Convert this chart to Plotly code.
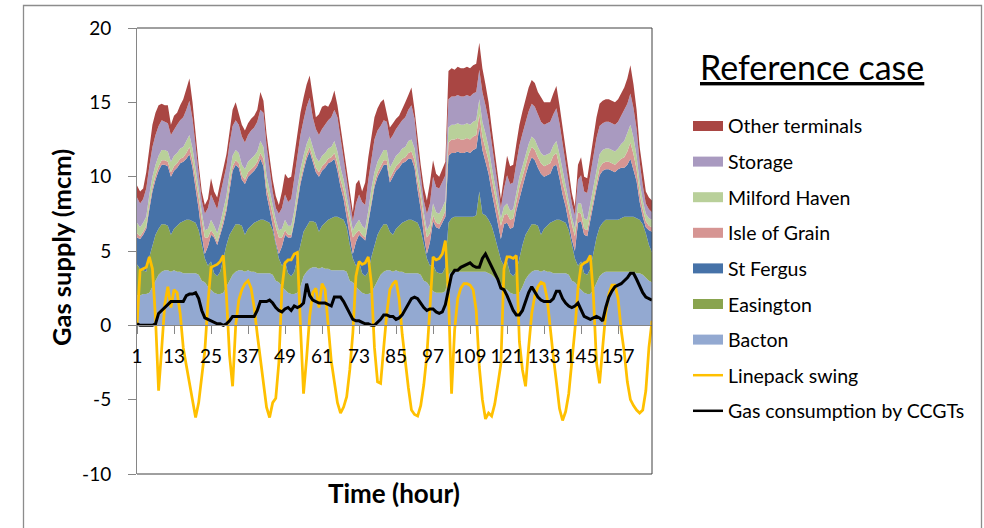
import plotly.graph_objects as go

# ---------------------------------------------------------------------------
# Hourly gas supply by terminal over one week (mcm), plus linepack swing and
# gas burnt by CCGTs.
# ---------------------------------------------------------------------------
hours = list(range(1, 169))
tick_hours = list(range(1, 158, 12))
tick_labels = [str(h) for h in tick_hours]
y_ticks = [-10, -5, 0, 5, 10, 15, 20]
y_tick_labels = ["-10", "-5", "0", "5", "10", "15", "20"]

bacton = [
    2.0, 2.0, 2.1, 2.1, 2.2, 2.6, 3.1, 3.4, 3.6, 3.7, 3.7, 3.6, 3.7, 3.6, 3.6, 3.5, 3.5, 3.5, 3.5, 3.5, 3.4, 3.0, 2.9, 2.6,
    2.4, 2.2, 2.1, 2.1, 2.2, 2.6, 3.1, 3.4, 3.6, 3.7, 3.7, 3.6, 3.7, 3.6, 3.6, 3.5, 3.5, 3.5, 3.5, 3.5, 3.4, 3.0, 2.9, 2.6,
    2.4, 2.2, 2.1, 2.1, 2.2, 2.6, 3.3, 3.6, 3.8, 3.9, 3.9, 3.8, 3.9, 3.8, 3.8, 3.7, 3.7, 3.7, 3.7, 3.7, 3.6, 3.0, 2.9, 2.6,
    2.4, 2.2, 2.1, 2.1, 2.2, 2.6, 3.1, 3.4, 3.6, 3.7, 3.7, 3.6, 3.7, 3.6, 3.6, 3.5, 3.5, 3.5, 3.5, 3.5, 3.4, 3.0, 2.9, 2.6,
    2.3, 2.2, 2.2, 2.2, 2.3, 3.4, 3.6, 3.6, 3.6, 3.6, 3.6, 3.6, 3.6, 3.6, 3.6, 3.6, 3.6, 3.6, 3.5, 3.4, 3.2, 3.0, 2.8, 2.5,
    2.4, 2.2, 2.1, 2.1, 2.2, 2.6, 3.1, 3.4, 3.6, 3.7, 3.7, 3.6, 3.7, 3.6, 3.6, 3.5, 3.5, 3.5, 3.5, 3.5, 3.4, 3.0, 2.9, 2.6,
    2.4, 2.2, 2.1, 2.1, 2.4, 2.9, 3.3, 3.5, 3.6, 3.6, 3.6, 3.6, 3.6, 3.6, 3.6, 3.6, 3.6, 3.6, 3.5, 3.5, 3.4, 3.2, 3.0, 2.9,
]

easington = [
    2.1, 1.8, 1.6, 1.5, 2.4, 2.8, 3.0, 3.1, 3.2, 3.1, 3.0, 2.5, 2.8, 3.1, 3.3, 3.5, 3.6, 3.6, 3.5, 3.4, 3.0, 2.4, 1.6, 1.4,
    1.9, 1.3, 1.2, 1.5, 2.4, 2.8, 3.0, 3.1, 3.2, 3.1, 3.0, 2.5, 2.8, 3.1, 3.3, 3.5, 3.6, 3.6, 3.5, 3.4, 3.0, 2.4, 1.6, 1.4,
    1.9, 1.3, 1.2, 1.5, 2.4, 2.8, 3.0, 3.1, 3.2, 3.1, 3.0, 2.5, 2.8, 3.1, 3.3, 3.5, 3.6, 3.6, 3.5, 3.4, 3.0, 2.4, 1.6, 1.4,
    1.9, 1.3, 1.2, 1.5, 2.4, 2.8, 3.0, 3.1, 3.2, 3.1, 2.6, 2.5, 2.8, 3.1, 3.3, 3.5, 3.6, 3.6, 3.5, 3.4, 3.0, 2.4, 1.6, 1.4,
    1.8, 1.4, 1.3, 1.3, 1.6, 3.5, 3.6, 3.7, 3.7, 3.7, 3.7, 3.7, 3.7, 3.7, 3.8, 5.4, 3.9, 3.8, 3.6, 3.3, 2.8, 2.2, 1.6, 1.5,
    1.9, 1.3, 1.2, 1.5, 2.4, 2.8, 3.0, 3.1, 3.2, 3.1, 3.0, 2.5, 2.8, 3.1, 3.3, 3.5, 3.6, 3.6, 3.5, 3.4, 3.0, 2.4, 1.6, 1.4,
    1.9, 1.3, 1.3, 1.7, 2.5, 3.0, 3.3, 3.4, 3.5, 3.5, 3.5, 3.5, 3.5, 3.6, 3.7, 3.7, 3.7, 3.7, 3.7, 3.6, 3.4, 3.0, 2.4, 2.0,
]

st_fergus = [
    1.8, 2.0, 2.4, 2.9, 3.2, 3.6, 3.7, 3.9, 4.0, 4.0, 4.0, 3.9, 3.9, 3.9, 4.0, 4.0, 4.1, 4.4, 3.6, 2.4, 1.4, 0.7, 0.3, 1.3,
    1.8, 2.4, 2.1, 2.5, 2.2, 2.3, 3.1, 3.9, 4.0, 3.8, 3.1, 3.4, 3.5, 3.5, 3.5, 3.7, 4.1, 3.6, 1.8, 0.9, 0.2, 0.2, 0.3, 1.3,
    1.8, 2.4, 2.6, 3.3, 3.6, 4.1, 4.1, 4.5, 4.7, 4.0, 3.4, 3.7, 3.7, 3.7, 3.8, 3.8, 3.9, 3.1, 2.1, 1.4, 0.7, 0.7, 0.3, 1.6,
    1.8, 2.4, 2.4, 3.3, 3.6, 3.9, 3.9, 3.9, 4.0, 4.0, 3.3, 3.9, 3.9, 3.9, 4.0, 4.0, 4.1, 4.1, 3.6, 2.2, 1.4, 0.7, 0.3, 1.6,
    2.9, 3.0, 3.0, 3.4, 3.4, 4.5, 4.4, 4.3, 4.4, 4.3, 4.3, 4.4, 4.3, 4.5, 4.5, 4.3, 4.3, 3.6, 3.1, 2.3, 1.9, 1.7, 1.4, 2.8,
    2.6, 3.0, 3.3, 4.1, 4.0, 3.9, 4.0, 4.3, 4.5, 4.3, 3.9, 4.1, 3.5, 3.4, 3.3, 3.7, 3.7, 2.8, 1.8, 1.1, 0.4, 0.4, 0.5, 2.9,
    2.7, 2.6, 2.6, 3.3, 3.1, 3.3, 3.5, 3.5, 3.4, 3.4, 3.3, 3.2, 3.4, 3.4, 3.3, 3.5, 3.9, 3.2, 2.5, 1.2, 0.5, 0.4, 1.0, 1.4,
]

isle_of_grain = [
    0.3, 0.2, 0.2, 0.2, 0.3, 0.3, 0.3, 0.3, 0.3, 0.3, 0.3, 0.3, 0.3, 0.3, 0.3, 0.3, 0.4, 0.5, 0.5, 0.6, 0.8, 1.0, 1.1, 0.6,
    0.3, 0.2, 0.2, 0.2, 0.3, 0.3, 0.3, 0.3, 0.3, 0.3, 0.3, 0.3, 0.3, 0.3, 0.3, 0.3, 0.4, 0.5, 0.5, 0.6, 0.8, 1.0, 1.1, 0.6,
    0.3, 0.2, 0.2, 0.2, 0.3, 0.3, 0.3, 0.3, 0.3, 0.3, 0.3, 0.3, 0.3, 0.3, 0.3, 0.3, 0.4, 0.5, 0.5, 0.6, 0.8, 1.0, 1.1, 0.6,
    0.3, 0.2, 0.2, 0.2, 0.3, 0.3, 0.3, 0.3, 0.3, 0.3, 0.3, 0.3, 0.3, 0.3, 0.3, 0.3, 0.4, 0.5, 0.5, 0.6, 0.8, 1.0, 1.1, 0.6,
    0.4, 0.3, 0.3, 0.3, 0.4, 0.9, 0.9, 0.9, 0.9, 0.9, 0.9, 0.9, 0.9, 0.9, 0.9, 0.9, 0.9, 0.9, 0.9, 0.9, 1.0, 1.0, 0.9, 0.6,
    0.6, 0.6, 0.6, 0.6, 0.7, 0.7, 0.7, 0.7, 0.7, 0.7, 0.7, 0.7, 0.7, 0.7, 0.7, 0.7, 0.8, 0.8, 0.8, 0.8, 0.9, 1.0, 1.0, 0.7,
    0.5, 0.4, 0.4, 0.4, 0.5, 0.5, 0.5, 0.5, 0.5, 0.5, 0.5, 0.5, 0.5, 0.6, 0.7, 0.9, 1.1, 1.0, 0.8, 0.6, 0.5, 0.4, 0.3, 0.3,
]

milford_haven = [
    0.7, 0.6, 0.6, 0.6, 0.7, 0.7, 0.7, 0.7, 0.7, 0.7, 0.7, 0.7, 0.7, 0.7, 0.7, 0.7, 0.8, 0.8, 0.8, 0.7, 0.6, 0.5, 0.5, 0.6,
    0.7, 0.6, 0.6, 0.6, 0.7, 0.7, 0.7, 0.7, 0.7, 0.7, 0.7, 0.7, 0.7, 0.7, 0.7, 0.7, 0.8, 0.8, 0.8, 0.7, 0.6, 0.5, 0.5, 0.6,
    0.7, 0.6, 0.6, 0.6, 0.7, 0.7, 0.7, 0.7, 0.7, 0.7, 0.7, 0.7, 0.7, 0.7, 0.7, 0.7, 0.8, 0.8, 0.8, 0.7, 0.6, 0.5, 0.5, 0.6,
    0.7, 0.6, 0.6, 0.6, 0.7, 0.7, 0.7, 0.7, 0.7, 0.7, 0.7, 0.7, 0.7, 0.7, 0.7, 0.7, 0.8, 0.8, 0.8, 0.7, 0.6, 0.5, 0.5, 0.6,
    0.8, 0.7, 0.7, 0.7, 0.7, 1.0, 1.0, 1.0, 1.0, 1.0, 1.0, 1.0, 1.0, 1.0, 1.0, 1.0, 1.0, 1.0, 0.9, 0.8, 0.7, 0.6, 0.5, 0.6,
    0.7, 0.6, 0.6, 0.6, 0.7, 0.7, 0.7, 0.7, 0.7, 0.7, 0.7, 0.7, 0.7, 0.7, 0.7, 0.7, 0.8, 0.8, 0.8, 0.7, 0.6, 0.5, 0.5, 0.6,
    0.7, 0.7, 0.7, 0.7, 0.8, 0.9, 0.9, 0.9, 0.9, 0.9, 0.9, 0.9, 0.9, 1.0, 1.1, 1.2, 1.2, 1.1, 0.9, 0.7, 0.6, 0.5, 0.5, 0.5,
]

storage = [
    1.7, 1.6, 1.6, 1.9, 1.9, 2.0, 2.0, 2.0, 2.0, 1.9, 1.9, 1.8, 1.8, 1.9, 1.9, 2.0, 2.1, 2.3, 2.0, 1.4, 1.0, 0.8, 1.1, 1.4,
    1.7, 1.6, 1.6, 1.9, 1.9, 2.0, 2.0, 2.0, 2.0, 1.9, 1.9, 1.8, 1.8, 1.9, 1.9, 2.0, 2.1, 2.3, 2.0, 1.4, 1.0, 0.8, 1.1, 1.4,
    1.7, 1.6, 1.8, 2.2, 2.1, 2.3, 2.4, 2.5, 2.6, 2.0, 1.9, 1.8, 1.8, 1.9, 1.9, 2.0, 2.1, 2.3, 2.0, 1.4, 1.0, 0.8, 0.6, 1.4,
    1.7, 1.6, 1.6, 2.1, 2.1, 2.2, 2.1, 2.0, 2.0, 1.9, 1.9, 1.8, 1.8, 1.9, 1.9, 2.0, 2.1, 2.3, 2.0, 1.4, 1.0, 0.8, 1.1, 1.4,
    1.8, 1.7, 1.7, 1.7, 1.7, 1.9, 1.9, 1.9, 1.9, 1.9, 1.9, 1.9, 1.9, 1.9, 1.9, 2.0, 2.0, 1.9, 1.8, 1.6, 1.2, 0.9, 0.7, 1.2,
    1.9, 1.8, 1.8, 2.0, 2.1, 2.2, 2.2, 2.2, 2.2, 2.2, 2.2, 2.1, 2.1, 2.1, 2.1, 2.1, 2.2, 2.1, 1.9, 1.4, 1.1, 0.9, 0.9, 1.6,
    1.9, 1.8, 1.8, 1.9, 2.0, 2.0, 1.9, 1.8, 1.8, 1.8, 1.8, 1.8, 1.8, 1.9, 2.0, 2.0, 2.1, 2.0, 1.8, 1.4, 1.0, 0.7, 0.6, 0.5,
]

other_terminals = [
    0.8, 0.8, 0.7, 1.1, 1.2, 1.5, 1.5, 1.4, 1.1, 1.1, 1.2, 0.7, 0.9, 0.8, 1.0, 1.2, 1.4, 1.5, 1.1, 0.8, 0.6, 0.6, 0.6, 0.6,
    1.1, 0.7, 0.8, 0.8, 0.8, 0.8, 0.8, 1.1, 1.2, 0.8, 0.8, 0.8, 0.8, 0.8, 0.8, 0.8, 1.2, 0.8, 0.8, 0.8, 0.8, 0.8, 0.6, 1.1,
    1.4, 1.6, 1.5, 1.5, 1.5, 1.5, 1.5, 1.5, 1.5, 1.5, 0.8, 1.4, 1.5, 1.3, 0.9, 1.1, 1.3, 0.8, 0.8, 0.8, 0.8, 0.6, 0.6, 1.3,
    1.0, 0.7, 1.5, 1.5, 1.5, 1.5, 1.5, 1.6, 1.4, 0.6, 0.8, 0.8, 0.7, 0.6, 0.7, 1.0, 1.0, 1.2, 0.6, 0.7, 0.6, 0.9, 0.9, 1.4,
    1.1, 0.9, 0.8, 0.9, 0.9, 1.9, 1.9, 1.8, 1.9, 1.9, 1.9, 1.9, 1.9, 1.9, 1.9, 1.8, 1.6, 1.4, 1.2, 1.0, 0.8, 0.6, 0.6, 0.8,
    1.3, 1.2, 1.2, 1.3, 1.4, 1.5, 1.6, 1.6, 1.6, 1.6, 1.5, 1.6, 1.5, 1.4, 1.3, 1.4, 1.5, 1.2, 1.0, 0.9, 0.8, 0.7, 0.6, 1.0,
    1.2, 1.0, 1.0, 1.1, 1.3, 1.4, 1.5, 1.5, 1.5, 1.5, 1.5, 1.5, 1.5, 1.5, 1.6, 1.7, 1.9, 1.6, 1.3, 1.0, 0.9, 0.8, 0.8, 0.8,
]

linepack_swing = [
    0.0, 3.7, 3.8, 3.9, 4.6, 3.8, 0.5, -4.4, -1.6, 1.4, 2.6, 1.2, 2.4, 2.2, 0.8, -1.5, -2.7, -3.8, -5.0, -6.2, -5.2, -3.5, -1.7, 1.5,
    3.9, 4.0, 4.1, 4.3, 4.7, 2.0, -2.0, -4.1, 0.0, 1.7, 2.4, 2.8, 3.0, 2.5, 1.2, -0.6, -2.3, -4.1, -5.5, -6.2, -5.2, -4.9, -2.5, 2.5,
    4.2, 4.4, 4.4, 4.8, 4.9, 0.0, -4.6, -2.2, 0.6, 2.2, 2.5, 1.2, 2.8, 2.4, 0.2, -2.4, -3.8, -5.2, -5.9, -5.5, -4.8, -3.0, -0.5, 3.3,
    4.3, 4.1, 4.2, 4.6, 2.8, -1.5, -3.8, -3.9, -1.5, 0.8, 2.4, 2.8, 3.0, 1.8, -0.6, -2.5, -4.2, -5.7, -6.0, -6.1, -5.4, -4.0, -2.0, 1.2,
    4.6, 4.4, 4.5, 4.8, 5.7, 2.0, -4.6, -0.3, 1.8, 2.5, 2.8, 2.8, 2.7, 2.4, 1.0, -2.8, -5.0, -6.3, -5.9, -6.1, -5.3, -4.0, -2.6, 3.8,
    4.6, 4.6, 4.5, 4.7, -1.1, -3.0, -4.1, -1.5, 0.8, 2.0, 2.6, 2.9, 2.8, 1.8, -0.3, -2.1, -3.8, -5.6, -6.4, -5.8, -4.6, -2.6, -0.3, 2.5,
    4.0, 4.2, 4.3, 4.7, 2.0, -2.5, -3.9, -1.5, 0.8, 2.1, 2.7, 2.7, 1.8, -0.3, -1.8, -3.8, -5.0, -5.4, -5.7, -5.9, -5.7, -4.4, -1.5, 0.3,
]

ccgt_gas = [
    0.1, 0.0, 0.0, 0.0, 0.0, 0.0, 0.1, 0.8, 1.0, 1.2, 1.4, 1.6, 1.6, 1.6, 1.6, 1.6, 2.0, 2.1, 2.1, 2.2, 1.8, 1.0, 0.5, 0.4,
    0.3, 0.2, 0.1, 0.1, 0.0, 0.1, 0.3, 0.6, 0.6, 0.6, 0.6, 0.6, 0.6, 0.6, 0.6, 1.0, 1.6, 1.6, 1.6, 1.7, 1.5, 1.2, 1.0, 0.9,
    1.1, 1.2, 1.0, 1.3, 1.2, 1.3, 1.5, 2.8, 2.0, 1.7, 1.6, 1.5, 1.5, 1.5, 1.4, 1.3, 1.9, 1.9, 1.9, 1.6, 1.2, 0.8, 0.4, 0.3,
    0.3, 0.2, 0.1, 0.1, 0.0, 0.0, 0.2, 0.4, 0.7, 0.7, 0.6, 0.6, 0.4, 0.5, 0.7, 1.1, 1.5, 1.8, 1.9, 1.8, 1.5, 1.2, 1.0, 1.1,
    1.1, 0.9, 0.8, 0.9, 1.4, 2.5, 3.4, 3.7, 3.7, 3.9, 4.0, 4.1, 4.2, 4.0, 3.9, 3.9, 4.5, 4.8, 4.4, 4.0, 3.6, 3.1, 2.5, 2.4,
    2.0, 1.5, 1.0, 0.7, 0.7, 1.0, 1.6, 2.2, 2.6, 2.2, 1.9, 1.7, 1.6, 1.6, 1.6, 1.8, 2.3, 2.3, 1.8, 1.5, 1.3, 1.2, 1.3, 1.5,
    1.0, 0.6, 0.5, 0.4, 0.5, 0.6, 0.5, 0.3, 1.2, 1.9, 2.3, 2.6, 2.7, 2.8, 3.0, 3.2, 3.5, 3.5, 3.1, 2.6, 2.2, 1.9, 1.8, 1.7,
]

# Stacked supply layers, bottom to top: (name, values, colour)
supply_layers = [
    ("Bacton", bacton, "#93A9D1"),
    ("Easington", easington, "#89A44E"),
    ("St Fergus", st_fergus, "#4672A8"),
    ("Isle of Grain", isle_of_grain, "#D69593"),
    ("Milford Haven", milford_haven, "#B9D09A"),
    ("Storage", storage, "#A99AC0"),
    ("Other terminals", other_terminals, "#A94643"),
]
LINEPACK_COLOUR = "#FFC000"
CCGT_COLOUR = "#000000"

fig = go.Figure()
for name, values, colour in supply_layers:
    fig.add_trace(go.Scatter(
        x=hours, y=values, name=name, mode="lines",
        stackgroup="supply", line=dict(width=0, color=colour),
        fillcolor=colour, showlegend=False,
    ))

fig.add_trace(go.Scatter(
    x=hours, y=linepack_swing, name="Linepack swing", mode="lines",
    line=dict(color=LINEPACK_COLOUR, width=2.75), showlegend=False,
))
fig.add_trace(go.Scatter(
    x=hours, y=ccgt_gas, name="Gas consumption by CCGTs", mode="lines",
    line=dict(color=CCGT_COLOUR, width=3), showlegend=False,
))

# Plot area occupies pixels x 137..652, y 28..474 of the 984 x 528 page.
L, R, T, B = 137, 652, 28, 474
W, H = R - L, B - T


def px(x):
    return (x - L) / W


def py(y):
    return (B - y) / H


axis_grey = "#868686"
FONT = "Lato"

fig.update_layout(
    width=984, height=528,
    margin=dict(l=L, r=984 - R, t=T, b=528 - B),
    paper_bgcolor="white", plot_bgcolor="white",
    font=dict(family=FONT, size=19, color="#000000"),
    showlegend=False,
    xaxis=dict(
        range=[1, 168], tickvals=tick_hours, ticktext=tick_labels,
        anchor="free", position=1 / 3,
        showline=True, linecolor=axis_grey, linewidth=1,
        ticks="outside", ticklen=8, tickcolor=axis_grey, tickwidth=1,
        showgrid=False, zeroline=False, tickangle=0, ticklabelstandoff=6,
        tickfont=dict(family=FONT, size=19, color="#000000"),
    ),
    yaxis=dict(
        range=[-10, 20], tickvals=y_ticks, ticktext=y_tick_labels,
        showline=True, linecolor=axis_grey, linewidth=1,
        ticks="outside", ticklen=8, tickcolor=axis_grey, tickwidth=1,
        showgrid=False, zeroline=False, ticklabelstandoff=13,
        tickfont=dict(family=FONT, size=19, color="#000000"),
    ),
)

shapes = []
# plot-area frame (top, right, bottom)
frame = "#404040"
for x0, y0, x1, y1 in [(0, 1, 1, 1), (1, 0, 1, 1), (0, 0, 1, 0)]:
    shapes.append(dict(type="line", xref="paper", yref="paper",
                       x0=x0, y0=y0, x1=x1, y1=y1,
                       line=dict(color=frame, width=1), layer="above"))
# chart-area border
shapes.append(dict(type="rect", xref="paper", yref="paper",
                   x0=px(23.5), x1=px(981.5), y0=py(545), y1=py(5.5),
                   line=dict(color="#8C8C8C", width=1.3), layer="below"))

# key: filled swatches for the terminals, short strokes for the two lines
key_rows = [
    ("Other terminals", "#A94643", "fill"),
    ("Storage", "#A99AC0", "fill"),
    ("Milford Haven", "#B9D09A", "fill"),
    ("Isle of Grain", "#D69593", "fill"),
    ("St Fergus", "#4672A8", "fill"),
    ("Easington", "#89A44E", "fill"),
    ("Bacton", "#93A9D1", "fill"),
    ("Linepack swing", LINEPACK_COLOUR, "line"),
    ("Gas consumption by CCGTs", CCGT_COLOUR, "line"),
]
key_top, key_step = 126.0, 35.6
annotations = []
for i, (label, colour, kind) in enumerate(key_rows):
    yc = key_top + i * key_step
    if kind == "fill":
        shapes.append(dict(type="rect", xref="paper", yref="paper",
                           x0=px(693), x1=px(723), y0=py(yc + 5), y1=py(yc - 5),
                           fillcolor=colour, line=dict(width=0)))
    else:
        shapes.append(dict(type="line", xref="paper", yref="paper",
                           x0=px(693), x1=px(723), y0=py(yc), y1=py(yc),
                           line=dict(color=colour, width=2.5)))
    annotations.append(dict(
        text=label, xref="paper", yref="paper", x=px(726), y=py(yc),
        xanchor="left", yanchor="middle", showarrow=False,
        font=dict(family=FONT, size=19.5, color="#000000"),
    ))

annotations += [
    dict(text="<u>Reference case</u>", xref="paper", yref="paper",
         x=px(812), y=py(66), xanchor="center", yanchor="middle",
         showarrow=False, font=dict(family=FONT, size=34, color="#000000")),
    dict(text="<b>Time (hour)</b>", xref="paper", yref="paper",
         x=px(394), y=py(493), xanchor="center", yanchor="middle",
         showarrow=False, font=dict(family=FONT, size=26, color="#000000")),
    dict(text="<b>Gas supply (mcm)</b>", xref="paper", yref="paper",
         x=px(61), y=py(248), xanchor="center", yanchor="middle",
         textangle=-90, showarrow=False,
         font=dict(family=FONT, size=25.5, color="#000000")),
]

fig.update_layout(shapes=shapes, annotations=annotations)
fig.write_html("out.html")
